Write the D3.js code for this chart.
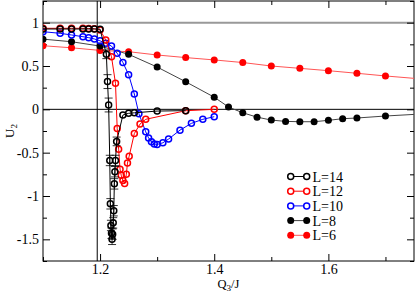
<!DOCTYPE html>
<html>
<head>
<meta charset="utf-8">
<script src="https://cdn.jsdelivr.net/npm/d3@7"></script>
<style>
  body { margin: 0; background: #fff; }
  text { font-family: "Liberation Serif", "DejaVu Serif", serif; }
</style>
</head>
<body>
<svg id="chart" width="415" height="293"></svg>
<script>
// U2 vs Q3/J for several system sizes
const q14 = [1.1, 1.13, 1.15, 1.17, 1.18, 1.19, 1.2, 1.211, 1.213, 1.215, 1.217, 1.218, 1.219, 1.22, 1.221, 1.222, 1.223, 1.224, 1.225, 1.226, 1.227, 1.229, 1.24, 1.25, 1.26, 1.3, 1.35];
const u14 = [0.927, 0.927, 0.927, 0.927, 0.927, 0.927, 0.925, 0.635, 0.32, 0.05, -0.59, -1.09, -1.34, -1.43, -1.5, -1.44, -1.31, -1.17, -0.86, -0.72, -0.59, -0.37, -0.066, -0.046, -0.04, -0.02, -0.015];
const e14 = [0, 0, 0, 0, 0, 0, 0, 0.05, 0.08, 0.08, 0.06, 0.06, 0.06, 0.06, 0.06, 0.06, 0.06, 0.06, 0.06, 0.06, 0.06, 0.05, 0, 0, 0, 0, 0];

const q12 = [1.1, 1.13, 1.15, 1.17, 1.18, 1.19, 1.2, 1.21, 1.22, 1.227, 1.23, 1.2325, 1.235, 1.237, 1.24, 1.243, 1.246, 1.248, 1.251, 1.26, 1.27, 1.28, 1.35, 1.4];
const u12 = [0.935, 0.935, 0.935, 0.935, 0.933, 0.93, 0.915, 0.8, 0.607, 0.3, -0.22, -0.46, -0.69, -0.76, -0.82, -0.855, -0.75, -0.62, -0.54, -0.28, -0.17, -0.115, -0.016, 0.0];

const q10 = [1.1, 1.13, 1.15, 1.17, 1.18, 1.19, 1.2, 1.21, 1.22, 1.23, 1.24, 1.25, 1.26, 1.268, 1.28, 1.285, 1.29, 1.295, 1.3, 1.31, 1.32, 1.34, 1.36, 1.38, 1.4];
const u10 = [0.896, 0.877, 0.858, 0.838, 0.827, 0.812, 0.79, 0.762, 0.73, 0.647, 0.54, 0.4, 0.177, -0.05, -0.26, -0.33, -0.374, -0.4, -0.405, -0.386, -0.343, -0.24, -0.162, -0.115, -0.085];

const q8 = [1.1, 1.15, 1.2, 1.25, 1.3, 1.35, 1.4, 1.425, 1.45, 1.475, 1.5, 1.525, 1.55, 1.575, 1.6, 1.625, 1.65, 1.7, 1.8];
const u8 = [0.81, 0.78, 0.73, 0.635, 0.488, 0.318, 0.14, 0.027, -0.04, -0.09, -0.124, -0.139, -0.143, -0.143, -0.127, -0.108, -0.1, -0.077, -0.04];

const q6 = [1.1, 1.15, 1.2, 1.25, 1.3, 1.35, 1.4, 1.45, 1.5, 1.55, 1.6, 1.65, 1.7, 1.8];
const u6 = [0.734, 0.71, 0.68, 0.665, 0.627, 0.597, 0.57, 0.54, 0.5, 0.473, 0.446, 0.416, 0.385, 0.33];

const xMajor = [1.2, 1.4, 1.6];
const xMinor = [1.1, 1.3, 1.5, 1.7];
const yMajor = [-1.5, -1, -0.5, 0, 0.5, 1];
const yMinor = [-1.75, -1.25, -0.75, -0.25, 0.25, 0.75, 1.25];

const zip = (qs, us, es) => qs.map((q, i) => ({q: q, u: us[i], e: es ? es[i] : 0}));

const series = [
  {name: 'L=14', data: zip(q14, u14, e14), color: '#000', line: '#000', filled: false},
  {name: 'L=12', data: zip(q12, u12), color: '#f00', line: '#f00', filled: false},
  {name: 'L=10', data: zip(q10, u10), color: '#00f', line: '#00f', filled: false},
  {name: 'L=8', data: zip(q8, u8), color: '#000', line: '#444', filled: true},
  {name: 'L=6', data: zip(q6, u6), color: '#f00', line: '#f55', filled: true}
];

const svg = d3.select('#chart');
const mLeft = 43, mRight = 414, mTop = 1, mBottom = 261;

const x = d3.scaleLinear().domain([1.1, 1.75]).range([mLeft, mRight]);
const y = d3.scaleLinear().domain([-1.75, 1.25]).range([mBottom, mTop]);

svg.append('clipPath').attr('id', 'clip')
  .append('rect').attr('x', mLeft).attr('y', mTop).attr('width', mRight - mLeft).attr('height', mBottom - mTop);

// reference lines
svg.append('line').attr('x1', mLeft).attr('x2', mRight).attr('y1', y(1)).attr('y2', y(1))
  .attr('stroke', '#999').attr('stroke-width', 2);
svg.append('line').attr('x1', mLeft).attr('x2', mRight).attr('y1', y(0)).attr('y2', y(0))
  .attr('stroke', '#000').attr('stroke-width', 1);
svg.append('line').attr('x1', x(1.195)).attr('x2', x(1.195)).attr('y1', mTop).attr('y2', mBottom)
  .attr('stroke', '#000').attr('stroke-width', 1);

// axes, ticks pointing inward on all four sides
const tickStyle = g => {
  g.select('.domain').remove();
  g.selectAll('line').attr('stroke', '#000');
  g.selectAll('text').attr('font-size', 14).attr('fill', '#000')
    .style('font-family', '"Liberation Serif", serif');
};
const fmt = d => String(d);

svg.append('g').attr('transform', `translate(0,${mBottom})`)
  .call(d3.axisBottom(x).tickValues(xMajor).tickSize(-7).tickPadding(3).tickFormat(fmt)).call(tickStyle);
svg.append('g').attr('transform', `translate(0,${mBottom})`)
  .call(d3.axisBottom(x).tickValues(xMinor).tickSize(-4).tickFormat('')).call(tickStyle);
svg.append('g').attr('transform', `translate(0,${mTop})`)
  .call(d3.axisTop(x).tickValues(xMajor).tickSize(-7).tickFormat('')).call(tickStyle);
svg.append('g').attr('transform', `translate(0,${mTop})`)
  .call(d3.axisTop(x).tickValues(xMinor).tickSize(-4).tickFormat('')).call(tickStyle);

svg.append('g').attr('transform', `translate(${mLeft},0)`)
  .call(d3.axisLeft(y).tickValues(yMajor).tickSize(-7).tickPadding(4).tickFormat(fmt)).call(tickStyle);
svg.append('g').attr('transform', `translate(${mLeft},0)`)
  .call(d3.axisLeft(y).tickValues(yMinor).tickSize(-4).tickFormat('')).call(tickStyle);
svg.append('g').attr('transform', `translate(${mRight},0)`)
  .call(d3.axisRight(y).tickValues(yMajor).tickSize(-7).tickFormat('')).call(tickStyle);
svg.append('g').attr('transform', `translate(${mRight},0)`)
  .call(d3.axisRight(y).tickValues(yMinor).tickSize(-4).tickFormat('')).call(tickStyle);

// frame
svg.append('rect').attr('x', mLeft).attr('y', mTop).attr('width', mRight - mLeft).attr('height', mBottom - mTop)
  .attr('fill', 'none').attr('stroke', '#000').attr('stroke-width', 1);

// series
const plot = svg.append('g').attr('clip-path', 'url(#clip)');
const line = d3.line().x(d => x(d.q)).y(d => y(d.u));

series.slice().reverse().forEach(s => {
  const g = plot.append('g');
  g.append('path').datum(s.data).attr('d', line)
    .attr('fill', 'none').attr('stroke', s.line).attr('stroke-width', 1);
  const errs = s.data.filter(d => d.e > 0);
  g.selectAll('.eb').data(errs).join('path')
    .attr('d', d => `M${x(d.q)},${y(d.u - d.e)}V${y(d.u + d.e)}` +
      `M${x(d.q) - 4},${y(d.u - d.e)}h8M${x(d.q) - 4},${y(d.u + d.e)}h8`)
    .attr('stroke', s.color).attr('stroke-width', 0.8).attr('fill', 'none');
  g.selectAll('circle').data(s.data).join('circle')
    .attr('cx', d => x(d.q)).attr('cy', d => y(d.u))
    .attr('r', s.filled ? 3.5 : 3)
    .attr('fill', s.filled ? s.color : 'none')
    .attr('stroke', s.color).attr('stroke-width', s.filled ? 0 : 1.5);
});

// legend
const legend = svg.append('g');
series.forEach((s, i) => {
  const ly = 176.5 + i * 14.7;
  legend.append('line').attr('x1', 290.7).attr('x2', 306.7).attr('y1', ly).attr('y2', ly)
    .attr('stroke', s.line).attr('stroke-width', 1);
  [290.7, 306.7].forEach(cx => {
    legend.append('circle').attr('cx', cx).attr('cy', ly).attr('r', s.filled ? 3.5 : 3)
      .attr('fill', s.filled ? s.color : '#fff')
      .attr('stroke', s.color).attr('stroke-width', s.filled ? 0 : 1.5);
  });
  legend.append('text').attr('x', 312.5).attr('y', ly + 5).attr('font-size', 14).text(s.name);
});

// axis titles
const xt = svg.append('text').attr('x', (mLeft + mRight) / 2).attr('y', 288)
  .attr('text-anchor', 'middle').attr('font-size', 12.5);
xt.append('tspan').text('Q');
xt.append('tspan').attr('font-size', 9).attr('dy', 3).text('3');
xt.append('tspan').attr('dy', -3).text('/J');

const yt = svg.append('text').attr('transform', `translate(14,${(mTop + mBottom) / 2}) rotate(-90)`)
  .attr('text-anchor', 'middle').attr('font-size', 13);
yt.append('tspan').text('U');
yt.append('tspan').attr('font-size', 9).attr('dy', 3).text('2');
</script>
</body>
</html>
